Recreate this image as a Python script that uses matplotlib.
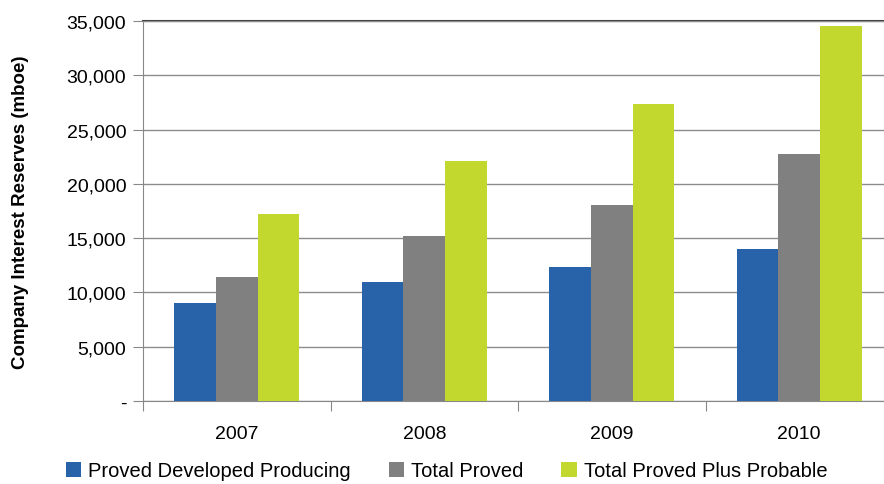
import matplotlib.pyplot as plt
import numpy as np

plt.rcParams['font.family'] = ['Liberation Sans', 'DejaVu Sans']

years = ['2007', '2008', '2009', '2010']
pdp = [9050, 10950, 12300, 14000]
total_proved = [11400, 15200, 18050, 22750]
proved_probable = [17200, 22100, 27350, 34500]

series_names = ['Proved Developed Producing', 'Total Proved', 'Total Proved Plus Probable']
colors = ['#2862A8', '#808080', '#C2D82E']

fig = plt.figure(figsize=(8.84, 4.85), dpi=100)
ax = fig.add_axes([143 / 884, 83 / 485, 750 / 884, 380 / 485])

x = np.arange(len(years)) + 0.5
w = 0.222
for i, (vals, name, c) in enumerate(zip([pdp, total_proved, proved_probable], series_names, colors)):
    ax.bar(x + (i - 1) * w, vals, width=w, color=c, label=name, zorder=3)

ax.set_xlim(0, 4)
ax.set_ylim(0, 35000)
yt = np.arange(0, 35001, 5000)
ax.set_yticks(yt)
ax.set_yticklabels(['-'] + [f'{v:,}' for v in yt[1:]], fontsize=14)
ax.set_xticks(np.arange(0, 5))
ax.set_xticklabels([])
ax.set_xticks(x, minor=True)
ax.set_xticklabels(years, minor=True, fontsize=14)
ax.tick_params(axis='x', which='minor', length=0, pad=17)
ax.tick_params(axis='x', which='major', length=7, color='#888888')
ax.tick_params(axis='y', length=7, color='#888888', pad=5)

ax.grid(axis='y', color='#8c8c8c', linewidth=1, zorder=0)
for s in ['top', 'right']:
    ax.spines[s].set_visible(False)
ax.spines['left'].set_color('#888888')
ax.spines['bottom'].set_color('#888888')
ax.axhline(35000, color='#444444', linewidth=1.5, zorder=1, clip_on=False)

ax.set_ylabel('Company Interest Reserves (mboe)', fontsize=13.5, fontweight='bold')
ax.yaxis.set_label_coords(-0.152, 0.5)

fig.legend(loc='lower center', bbox_to_anchor=(0.505, -0.03), ncol=3, frameon=False, fontsize=14.5,
           handlelength=0.75, handleheight=0.75, handletextpad=0.35, columnspacing=1.9)

fig.savefig('out.png', dpi=100)
